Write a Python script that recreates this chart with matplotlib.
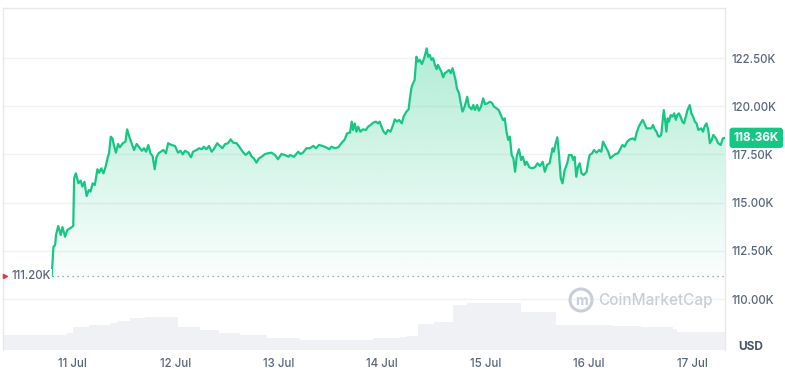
import numpy as np
import matplotlib
matplotlib.use("Agg")
import matplotlib.pyplot as plt
from matplotlib.patches import Polygon, Ellipse

plt.rcParams['font.family'] = ['Inter', 'DejaVu Sans']

# ---- data (hours since 10 Jul 00:00, price in USD) ----
hours = [19.3, 19.7, 20.1, 20.3, 20.8, 21.4, 21.8, 22.4, 22.9, 23.9, 24.3, 24.5, 24.9, 25.5, 26.0,
         26.4, 26.9, 27.4, 27.9, 28.3, 28.8, 29.3, 29.9, 30.3, 30.8, 31.3, 31.8, 32.3, 32.6, 33.0,
         33.4, 33.7, 34.2, 34.7, 35.1, 35.8, 36.4, 36.8, 37.3, 37.8, 38.4, 39.0, 39.5, 40.2, 40.7,
         41.2, 41.7, 42.2, 42.7, 43.2, 43.6, 44.1, 44.6, 45.2, 45.8, 46.3, 47.1, 47.9, 48.6, 49.2,
         49.7, 50.2, 51.0, 51.6, 52.1, 52.9, 53.5, 54.1, 54.6, 55.2, 55.8, 56.4, 56.9, 57.7, 58.3,
         58.9, 59.5, 60.2, 60.8, 61.4, 62.2, 62.8, 63.6, 64.3, 65.1, 65.7, 66.2, 66.8, 67.4, 68.0,
         68.8, 69.5, 70.3, 71.1, 71.8, 72.6, 73.4, 74.2, 74.6, 75.5, 76.5, 77.0, 77.6, 78.4, 79.2,
         80.0, 80.6, 81.3, 82.1, 82.9, 83.7, 84.2, 85.0, 85.8, 86.5, 87.3, 87.8, 88.5, 88.9, 89.2,
         89.6, 90.0, 90.4, 90.9, 91.5, 92.2, 92.7, 93.3, 93.9, 94.5, 95.0, 95.4, 95.8, 96.3, 96.8,
         97.3, 97.9, 98.5, 98.9, 99.4, 99.9, 100.5, 101.0, 101.6, 102.1, 102.4, 102.8, 103.2, 103.5, 103.9,
         104.3, 104.7, 105.2, 105.7, 106.3, 106.6, 107.0, 107.4, 107.8, 108.2, 108.6, 108.9, 109.3, 109.7, 110.1,
         110.5, 111.0, 111.5, 111.9, 112.3, 112.6, 113.0, 113.3, 113.8, 114.2, 114.6, 115.1, 115.7, 116.1, 116.7,
         117.1, 117.5, 118.0, 118.4, 118.9, 119.4, 119.8, 120.4, 120.9, 121.4, 121.9, 122.5, 123.0, 123.5, 124.0,
         124.4, 124.8, 125.2, 125.6, 126.0, 126.4, 126.8, 127.2, 127.7, 128.2, 128.6, 129.1, 129.5, 130.1, 130.7,
         131.4, 132.0, 132.6, 133.2, 133.7, 134.2, 134.8, 135.5, 135.8, 136.2, 136.6, 137.0, 137.4, 137.8, 138.3,
         138.9, 139.3, 139.9, 140.3, 140.6, 141.0, 141.4, 141.8, 142.2, 142.7, 143.4, 143.7, 144.1, 144.7, 145.1,
         145.7, 146.3, 146.8, 147.2, 147.8, 148.4, 148.9, 149.5, 150.1, 150.7, 151.2, 151.7, 152.2, 152.8, 153.4,
         154.1, 154.6, 155.0, 155.5, 155.9, 156.4, 156.8, 157.3, 157.9, 158.4, 158.8, 159.2, 159.6, 160.0, 160.3,
         160.7, 161.3, 161.6, 161.9, 162.2, 162.5, 162.9, 163.3, 163.7, 164.1, 164.4, 164.8, 165.2, 165.6, 166.0,
         166.4, 166.8, 167.3, 167.7, 168.1, 168.5, 168.9, 169.3, 169.6, 170.0, 170.4, 170.8, 171.2, 171.6, 172.0,
         172.4, 172.8, 173.4, 173.9, 174.5, 175.0, 175.5]
prices = [111200, 112710, 112800, 113320, 113790, 113320, 113730, 113230, 113580, 113720, 113790, 116260, 116520, 116000, 116140,
          115830, 116080, 115340, 115650, 115570, 116000, 115910, 116730, 116550, 116780, 116520, 116860, 117350, 117560, 118420,
          118330, 117990, 117590, 118040, 117870, 118080, 118160, 118800, 118420, 118110, 117730, 118040, 117900, 117690, 117820,
          117640, 117990, 117560, 117420, 116730, 117350, 117560, 117640, 117730, 117560, 118080, 117990, 117940, 117590, 117690,
          117500, 117690, 117590, 117350, 117640, 117730, 117820, 117770, 117900, 117770, 117940, 117640, 117770, 118080, 117940,
          117820, 118030, 118080, 118280, 118110, 118080, 117900, 117640, 117470, 117640, 117380, 117300, 117070, 117300, 117380,
          117520, 117560, 117590, 117470, 117250, 117520, 117470, 117380, 117470, 117380, 117640, 117520, 117590, 117820, 117820,
          117940, 117820, 117990, 117940, 117870, 117770, 117900, 117820, 117870, 118080, 118280, 118590, 118630, 119200, 118770,
          119110, 118680, 118940, 118680, 118800, 118770, 118940, 119030, 119150, 119200, 119110, 119200, 118940, 118680, 118560,
          118770, 118680, 119030, 119320, 119200, 119290, 119110, 119490, 119720, 119840, 120410, 121010, 121220, 121360, 122570,
          122310, 122400, 122190, 122490, 123000, 122570, 122660, 122400, 122490, 122140, 121920, 122140, 121970, 121790, 121500,
          121710, 121790, 121880, 121710, 121970, 121710, 121360, 120930, 120670, 120150, 119720, 119980, 120490, 119980, 119840,
          120060, 119800, 120060, 119770, 119980, 120410, 120110, 120150, 120230, 120180, 119980, 119890, 119800, 119540, 119280,
          119370, 118680, 118250, 118420, 117470, 117300, 116600, 117430, 117770, 117210, 117380, 116950, 117120, 116830, 116780,
          116830, 117040, 116900, 117120, 116600, 116950, 117040, 117820, 117640, 118080, 118390, 117470, 116260, 116000, 116690,
          117040, 117470, 117470, 117210, 117380, 116340, 116860, 117040, 116520, 116430, 116600, 117040, 117470, 117560, 117730,
          117590, 117730, 117640, 118160, 117900, 117640, 117300, 117420, 117520, 117560, 117770, 117990, 117900, 118160, 118280,
          118330, 118250, 118630, 118940, 119110, 119290, 119110, 118850, 118850, 118850, 119030, 118800, 118680, 118450, 118420,
          118510, 119800, 119290, 118680, 119370, 119200, 119540, 119460, 119630, 119290, 119540, 119630, 119460, 119200, 119110,
          119460, 119800, 120060, 119630, 119460, 119200, 119110, 118770, 118800, 118850, 118680, 118970, 119110, 118770, 118080,
          118250, 118510, 118330, 118080, 117990, 118330, 118360]

vol_hours = [8.0, 22.8, 24.2, 28.0, 32.8, 34.4, 37.4, 40.9, 47.9, 48.6, 53.7, 58.0, 63.0, 69.2, 76.9,
             86.1, 93.8, 100.1, 101.7, 104.2, 108.0, 112.3, 115.6, 128.1, 136.2, 146.4, 149.4, 156.0, 163.4, 164.3, 175.5]
volumes = [15, 17, 23, 25, 27, 29, 32, 33, 33, 23, 20, 17, 15, 12, 10,
           10, 12, 13, 14, 26, 28, 45, 47, 38, 25, 25, 24, 23, 21, 18, 18]

y_ticks = [110000, 112500, 115000, 117500, 120000, 122500]
y_tick_labels = ["110.00K", "112.50K", "115.00K", "117.50K", "120.00K", "122.50K"]
x_ticks = [24, 48, 72, 96, 120, 144, 168]
x_tick_labels = ["11 Jul", "12 Jul", "13 Jul", "14 Jul", "15 Jul", "16 Jul", "17 Jul"]
open_price = 111200
last_price = 118360

GREEN = "#16c784"
TXT = "#58667e"
WM = "#c9ced6"

W, H = 785, 370
fig = plt.figure(figsize=(W / 100, H / 100), dpi=100)
pos = [3 / W, (H - 350) / H, (725 - 3) / W, (350 - 8) / H]

xlim = (8.0, 175.5)
ylim = (107355, 125094)

# volume axes (behind)
axv = fig.add_axes(pos)
axv.set_xlim(*xlim)
axv.set_ylim(0, 342)
axv.fill_between(vol_hours, volumes, step="post", color="#eff1f5", lw=0)
axv.axis("off")

ax = fig.add_axes(pos)
ax.set_facecolor("none")
ax.set_xlim(*xlim)
ax.set_ylim(*ylim)

for yt in y_ticks:
    ax.axhline(yt, color="#eff1f4", lw=1.0, zorder=0)

# gradient fill under line
xs = np.array(hours)
ys = np.array(prices)
poly_pts = np.column_stack([np.r_[xs, xs[-1], xs[0]], np.r_[ys, open_price, open_price]])
poly = Polygon(poly_pts, closed=True, facecolor="none", edgecolor="none")
ax.add_patch(poly)
n = 256
alpha = np.linspace(0.02, 0.34, n)[:, None]
img = np.zeros((n, 1, 4))
img[..., 0] = 22 / 255
img[..., 1] = 199 / 255
img[..., 2] = 132 / 255
img[..., 3] = alpha
im = ax.imshow(img, extent=[xlim[0], xlim[1], open_price, 123200], origin="lower",
               aspect="auto", zorder=1, interpolation="bilinear")
im.set_clip_path(poly)

ax.plot(hours, prices, color=GREEN, lw=1.6, zorder=3, solid_joinstyle="round")

# open-price dotted line
ax.plot([hours[0], xlim[1]], [open_price, open_price], color="#8a919e", lw=0.9,
        ls=(0, (1, 3)), zorder=2)
ax.text(10.0, open_price, "111.20K", color=TXT, fontsize=8.3, va="center", ha="left",
        fontweight="medium", zorder=4,
        bbox=dict(boxstyle="square,pad=0.1", fc="white", ec="none"))
ax.plot([8.4], [open_price], marker=">", color="#ea3943", ms=3, zorder=5, clip_on=False)

# spines
for s in ["top", "left", "right"]:
    ax.spines[s].set_color("#e6e8ec")
    ax.spines[s].set_linewidth(1.0)
ax.spines["bottom"].set_visible(False)

ax.yaxis.tick_right()
ax.set_yticks(y_ticks)
ax.set_yticklabels(y_tick_labels)
ax.set_xticks(x_ticks)
ax.set_xticklabels(x_tick_labels)
ax.tick_params(axis="y", length=0, pad=5, labelsize=8.3, labelcolor=TXT)
ax.tick_params(axis="x", length=0, pad=5.5, labelsize=8.3, labelcolor=TXT)
for lab in ax.get_xticklabels() + ax.get_yticklabels():
    lab.set_fontweight("medium")

# last price badge
ax.text(xlim[1] + 2.0, last_price, "118.36K", color="white", fontsize=8.5, fontweight="bold",
        va="center", ha="left", zorder=6, clip_on=False,
        bbox=dict(boxstyle="round,pad=0.35,rounding_size=0.25", fc=GREEN, ec="none"))

# USD label
fig.text(738 / W, 1 - 347 / H, "USD", color="#4a5568", fontsize=8.5, fontweight="bold",
         va="center", ha="left")

# watermark
fig.text(598 / W, 1 - 300 / H, "CoinMarketCap", color=WM, fontsize=11,
         fontweight="medium", va="center", ha="left")
fig.patches.append(Ellipse((581 / W, 1 - 300 / H), 22 / W, 22 / H,
                           transform=fig.transFigure, fill=False, ec=WM, lw=2.2))
fig.text(581 / W, 1 - 301 / H, "m", color=WM, fontsize=10, fontweight="bold",
         va="center", ha="center")

fig.savefig("out.png", dpi=100)
